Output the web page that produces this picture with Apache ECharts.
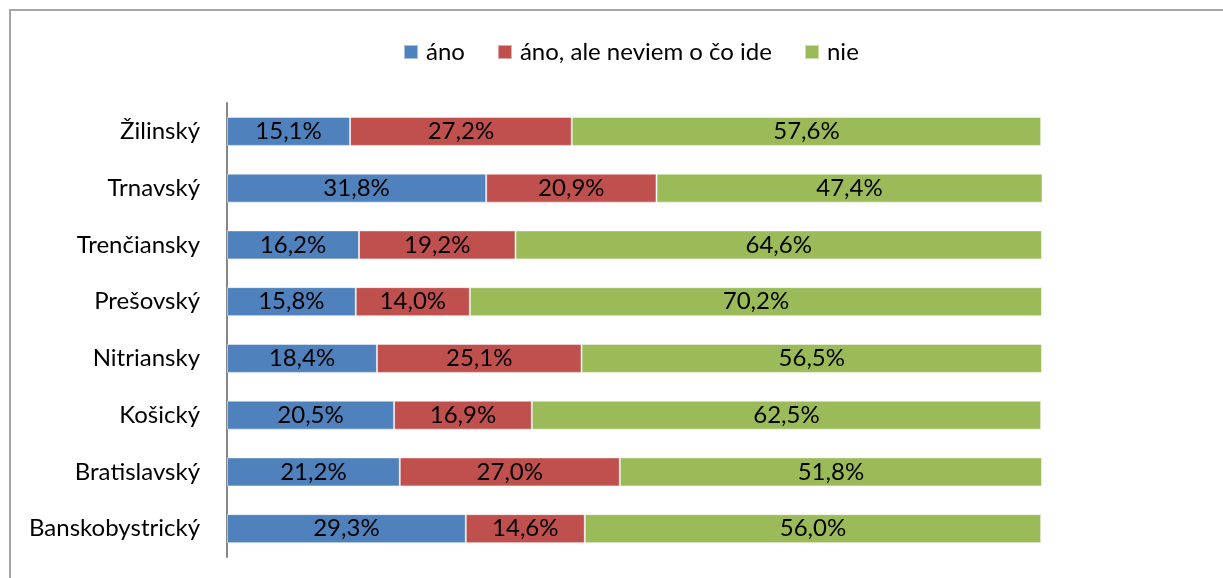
<!DOCTYPE html>
<html>
<head>
<meta charset="utf-8">
<script src="https://cdn.jsdelivr.net/npm/echarts@6/dist/echarts.min.js"></script>
<style>
  html, body { margin: 0; padding: 0; background: #fff; }
  #chart { width: 1223px; height: 578px; }
</style>
</head>
<body>
<div id="chart"></div>
<script>
// kraje zhora nadol
const kraje = ['Žilinský', 'Trnavský', 'Trenčiansky', 'Prešovský', 'Nitriansky', 'Košický', 'Bratislavský', 'Banskobystrický']
const ano = [15.1, 31.8, 16.2, 15.8, 18.4, 20.5, 21.2, 29.3]
const anoAle = [27.2, 20.9, 19.2, 14.0, 25.1, 16.9, 27.0, 14.6]
const nie = [57.6, 47.4, 64.6, 70.2, 56.5, 62.5, 51.8, 56.0]

const font = 'Lato'
const velkost = 24

function seria(name, data, color) {
  return {
    name: name,
    type: 'bar',
    stack: 'total',
    barWidth: 29,
    data: data,
    itemStyle: { color: color, borderColor: 'rgba(255,255,255,0.5)', borderWidth: 1 },
    label: {
      show: true,
      position: 'inside',
      color: '#000',
      fontFamily: font,
      fontSize: velkost,
      formatter: p => p.value.toFixed(1).replace('.', ',') + '%'
    }
  }
}

const myChart = echarts.init(document.getElementById('chart'))
const option = {
  animation: false,
  graphic: [
    {
      type: 'rect',
      shape: { x: 10, y: 10, width: 1240, height: 600 },
      style: { fill: 'none', stroke: '#a6a6a6', lineWidth: 2 }
    }
  ],
  legend: {
    top: 35,
    left: 398,
    itemWidth: 14,
    itemHeight: 14,
    itemGap: 32,
    icon: 'rect',
    textStyle: { fontFamily: font, fontSize: velkost, color: '#000', padding: [0, 0, 0, 3] },
    data: ['áno', 'áno, ale neviem o čo ide', 'nie']
  },
  grid: { left: 227, right: 181, top: 103, bottom: 21 },
  xAxis: {
    type: 'value',
    min: 0,
    max: 100,
    show: false
  },
  yAxis: {
    type: 'category',
    inverse: true,
    data: kraje,
    axisLine: { lineStyle: { color: '#868686', width: 2 } },
    axisTick: { show: false },
    axisLabel: { fontFamily: font, fontSize: velkost, color: '#000', margin: 27 }
  },
  series: [
    seria('áno', ano, '#4f81bd'),
    seria('áno, ale neviem o čo ide', anoAle, '#c0504d'),
    seria('nie', nie, '#9bbb59')
  ]
}
myChart.setOption(option)
</script>
</body>
</html>
